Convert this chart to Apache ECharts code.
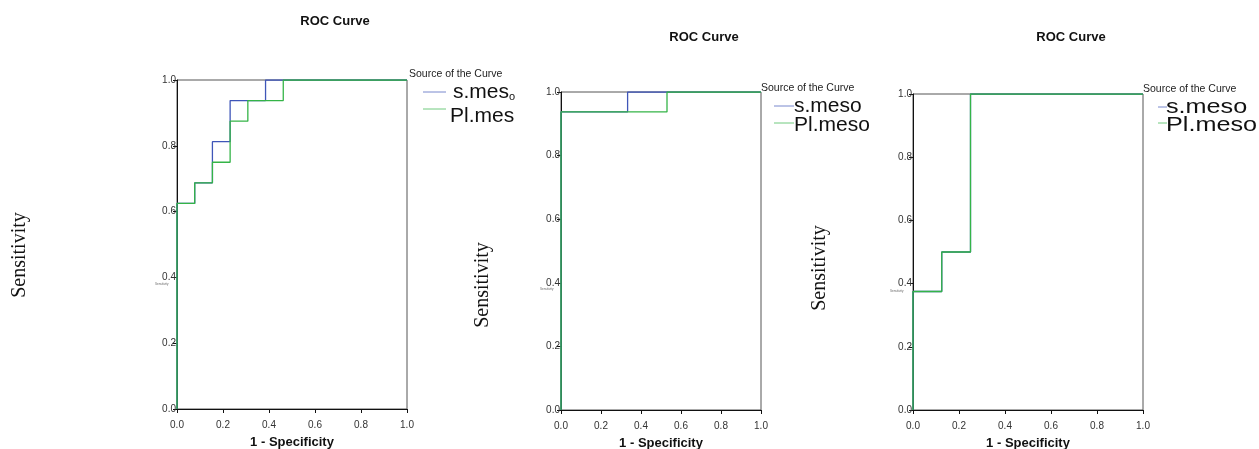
<!DOCTYPE html>
<html>
<head>
<meta charset="utf-8">
<script src="https://cdn.jsdelivr.net/npm/echarts@6/dist/echarts.min.js"></script>
<style>
  html, body { margin: 0; padding: 0; background: #fff; }
  #roc { width: 1259px; height: 449px; }
</style>
</head>
<body>
<div id="roc"></div>
<script>
// ROC points: [1 - specificity, sensitivity]
var p1Smeso = [[0, 0], [0, 0.625], [0.077, 0.625], [0.077, 0.6875], [0.154, 0.6875], [0.154, 0.8125],
  [0.231, 0.8125], [0.231, 0.9375], [0.385, 0.9375], [0.385, 1], [1, 1]];
var p1Plmeso = [[0, 0], [0, 0.625], [0.077, 0.625], [0.077, 0.6875], [0.154, 0.6875], [0.154, 0.75],
  [0.231, 0.75], [0.231, 0.875], [0.308, 0.875], [0.308, 0.9375], [0.462, 0.9375], [0.462, 1], [1, 1]];
var p2Smeso = [[0, 0], [0, 0.9375], [0.333, 0.9375], [0.333, 1], [1, 1]];
var p2Plmeso = [[0, 0], [0, 0.9375], [0.53, 0.9375], [0.53, 1], [1, 1]];
var p3Smeso = [[0, 0], [0, 0.375], [0.125, 0.375], [0.125, 0.5], [0.25, 0.5], [0.25, 1], [1, 1]];
var p3Plmeso = [[0, 0], [0, 0.375], [0.125, 0.375], [0.125, 0.5], [0.25, 0.5], [0.25, 1], [1, 1]];

var panelTitles = ["ROC Curve", "ROC Curve", "ROC Curve"];
var seriesNames = [["s.mes", "Pl.mes"], ["s.meso", "Pl.meso"], ["s.meso", "Pl.meso"]];
var legendTitle = "Source of the Curve";
var xName = "1 - Specificity";
var yName = "Sensitivity";

var blue = "#3f56b8";
var green = "#34b447";

var chart = echarts.init(document.getElementById("roc"));

var grids = [
  { left: 177, top: 80, width: 230, height: 329 },
  { left: 561, top: 92, width: 200, height: 318 },
  { left: 913, top: 94, width: 230, height: 316 }
];

function makeX(i) {
  return {
    gridIndex: i, type: "value", min: 0, max: 1, interval: 0.2,
    name: xName, nameLocation: "middle", nameGap: 27,
    nameTextStyle: { fontFamily: "Liberation Sans", fontWeight: "bold", fontSize: 13, color: "#111" },
    axisLine: { lineStyle: { color: "#111", width: 1 } },
    axisTick: { show: true, length: 4, lineStyle: { color: "#111" } },
    axisLabel: { margin: 11, fontFamily: "Liberation Sans", fontSize: 10, color: "#333",
      formatter: function (v) { return v.toFixed(1); } },
    splitLine: { show: false }
  };
}
function makeY(i) {
  return {
    gridIndex: i, type: "value", min: 0, max: 1, interval: 0.2,
    axisLine: { show: true, lineStyle: { color: "#111", width: 1 } },
    axisTick: { show: true, length: 4, lineStyle: { color: "#111" } },
    axisLabel: { margin: 1, fontFamily: "Liberation Sans", fontSize: 10, color: "#333",
      formatter: function (v) { return v.toFixed(1); } },
    splitLine: { show: false }
  };
}
function makeLine(i, name, data, color) {
  return {
    type: "line", name: name, xAxisIndex: i, yAxisIndex: i, data: data,
    showSymbol: false, silent: true, animation: false,
    lineStyle: { color: color, width: 1.3 }, itemStyle: { color: color }
  };
}

// legend blocks (line sample + name), positions per panel
var legendPos = [
  { x: 409, y: 75, lx1: 423, lx2: 446, tx1: 453, tx2: 450, y1: 92, y2: 109, t2: 116, sx: 1 },
  { x: 761, y: 89, lx1: 774, lx2: 794, tx1: 794, tx2: 794, y1: 106, y2: 123, t2: 125, sx: 1 },
  { x: 1143, y: 90, lx1: 1158, lx2: 1167, tx1: 1166, tx2: 1166, y1: 107, y2: 123, t2: 125, sx: 1.2 }
];
var graphics = [];
legendPos.forEach(function (p, i) {
  graphics.push({ type: "text", left: p.x, top: p.y - 6,
    style: { text: legendTitle, font: "10.5px Liberation Sans", fill: "#222" } });
  graphics.push({ type: "line", shape: { x1: p.lx1, y1: p.y1, x2: p.lx2, y2: p.y1 },
    style: { stroke: blue, lineWidth: 1, opacity: 0.7 } });
  graphics.push({ type: "line", shape: { x1: p.lx1, y1: p.y2, x2: p.lx2, y2: p.y2 },
    style: { stroke: green, lineWidth: 1, opacity: 0.7 } });
  var first = i === 0
    ? { text: "{a|" + seriesNames[i][0] + "}{b|o}", rich: {
        a: { font: "21px Liberation Sans", fill: "#111" },
        b: { font: "11px Liberation Sans", fill: "#111", verticalAlign: "bottom", padding: [8, 0, 0, 0] } } }
    : { text: seriesNames[i][0], font: "21px Liberation Sans", fill: "#111" };
  first.verticalAlign = "middle";
  graphics.push({ type: "text", x: p.tx1, y: p.y1, scaleX: p.sx, style: first });
  graphics.push({ type: "text", x: p.tx2, y: p.t2, scaleX: p.sx,
    style: { text: seriesNames[i][1], font: "21px Liberation Sans", fill: "#111", verticalAlign: "middle" } });
});
// y axis names, drawn where the picture has them
[[20, 255], [483, 285], [820, 268]].forEach(function (c) {
  graphics.push({ type: "text", x: c[0], y: c[1], rotation: Math.PI / 2,
    style: { text: yName, font: "20px Liberation Serif", fill: "#111", align: "center", verticalAlign: "middle" } });
});
// tiny stray labels near the 0.4 ticks
[[155, 283], [540, 288], [890, 290]].forEach(function (c) {
  graphics.push({ type: "text", x: c[0], y: c[1],
    style: { text: yName, font: "3px Liberation Sans", fill: "#666" } });
});

chart.setOption({
  animation: false,
  title: [
    { text: panelTitles[0], left: 330, top: 10, textAlign: "center" },
    { text: panelTitles[1], left: 699, top: 26, textAlign: "center" },
    { text: panelTitles[2], left: 1066, top: 26, textAlign: "center" }
  ].map(function (t) {
    t.textStyle = { fontFamily: "Liberation Sans", fontWeight: "bold", fontSize: 13, color: "#111" };
    return t;
  }),
  grid: grids.map(function (g) {
    return { left: g.left, top: g.top, width: g.width, height: g.height,
      outerBoundsMode: "none", containLabel: false,
      show: true, borderColor: "#555", borderWidth: 1, backgroundColor: "transparent" };
  }),
  xAxis: [makeX(0), makeX(1), makeX(2)],
  yAxis: [makeY(0), makeY(1), makeY(2)],
  series: [
    makeLine(0, seriesNames[0][0], p1Smeso, blue),
    makeLine(0, seriesNames[0][1], p1Plmeso, green),
    makeLine(1, seriesNames[1][0], p2Smeso, blue),
    makeLine(1, seriesNames[1][1], p2Plmeso, green),
    makeLine(2, seriesNames[2][0], p3Smeso, blue),
    makeLine(2, seriesNames[2][1], p3Plmeso, green)
  ],
  graphic: graphics
});
</script>
</body>
</html>
